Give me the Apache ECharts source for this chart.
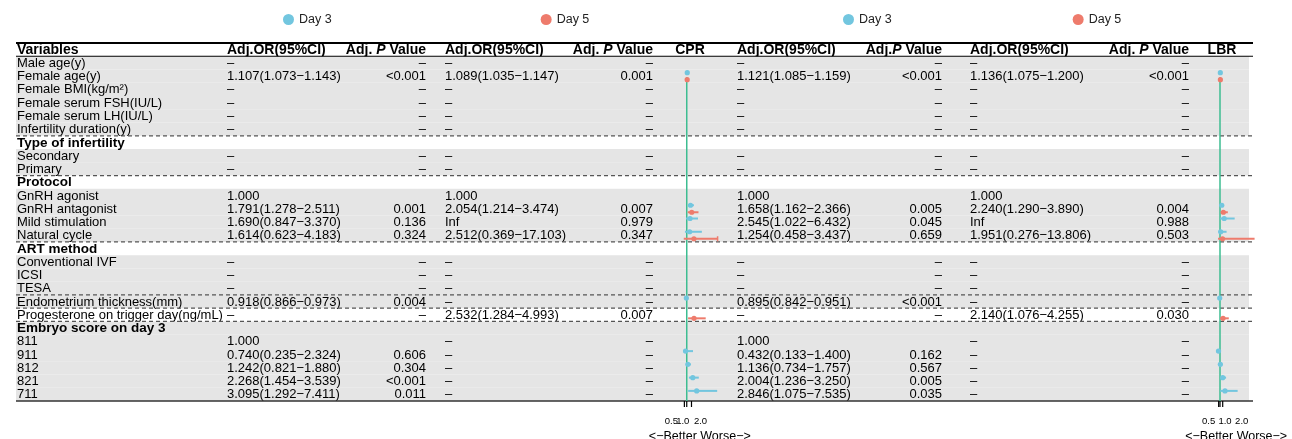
<!DOCTYPE html>
<html><head><meta charset="utf-8">
<script src="https://cdn.jsdelivr.net/npm/echarts@6/dist/echarts.min.js"></script>
<style>html,body{margin:0;padding:0;background:#fff}#c{width:1292px;height:439px}</style>
</head><body><div id="c"></div>
<script>
// ---------------- data ----------------
const variables = ['Male age(y)','Female age(y)','Female BMI(kg/m²)','Female serum FSH(IU/L)','Female serum LH(IU/L)','Infertility duration(y)',
  'Type of infertility','Secondary','Primary',
  'Protocol','GnRH agonist','GnRH antagonist','Mild stimulation','Natural cycle',
  'ART method','Conventional IVF','ICSI','TESA',
  'Endometrium thickness(mm)','Progesterone on trigger day(ng/mL)',
  'Embryo score on day 3','811','911','812','821','711'];
const groupRows = ['Type of infertility','Protocol','ART method','Embryo score on day 3'];

const cprDay3OR = ['–','1.107(1.073−1.143)','–','–','–','–','','–','–','','1.000','1.791(1.278−2.511)','1.690(0.847−3.370)','1.614(0.623−4.183)','','–','–','–','0.918(0.866−0.973)','–','','1.000','0.740(0.235−2.324)','1.242(0.821−1.880)','2.268(1.454−3.539)','3.095(1.292−7.411)'];
const cprDay3P  = ['–','<0.001','–','–','–','–','','–','–','','','0.001','0.136','0.324','','–','–','–','0.004','–','','','0.606','0.304','<0.001','0.011'];
const cprDay5OR = ['–','1.089(1.035−1.147)','–','–','–','–','','–','–','','1.000','2.054(1.214−3.474)','Inf','2.512(0.369−17.103)','','–','–','–','–','2.532(1.284−4.993)','','–','–','–','–','–'];
const cprDay5P  = ['–','0.001','–','–','–','–','','–','–','','','0.007','0.979','0.347','','–','–','–','–','0.007','','–','–','–','–','–'];
const lbrDay3OR = ['–','1.121(1.085−1.159)','–','–','–','–','','–','–','','1.000','1.658(1.162−2.366)','2.545(1.022−6.432)','1.254(0.458−3.437)','','–','–','–','0.895(0.842−0.951)','–','','1.000','0.432(0.133−1.400)','1.136(0.734−1.757)','2.004(1.236−3.250)','2.846(1.075−7.535)'];
const lbrDay3P  = ['–','<0.001','–','–','–','–','','–','–','','','0.005','0.045','0.659','','–','–','–','<0.001','–','','','0.162','0.567','0.005','0.035'];
const lbrDay5OR = ['–','1.136(1.075−1.200)','–','–','–','–','','–','–','','1.000','2.240(1.290−3.890)','Inf','1.951(0.276−13.806)','','–','–','–','–','2.140(1.076−4.255)','','–','–','–','–','–'];
const lbrDay5P  = ['–','<0.001','–','–','–','–','','–','–','','','0.004','0.988','0.503','','–','–','–','–','0.030','','–','–','–','–','–'];

const headers = ['Variables','Adj.OR(95%CI)','Adj. P Value','Adj.OR(95%CI)','Adj. P Value','CPR','Adj.OR(95%CI)','Adj.P Value','Adj.OR(95%CI)','Adj. P Value','LBR'];
const legendNames = ['Day 3','Day 5'];
const tickValues = [0.5, 1, 2];
const tickLabels = ['0.5','1.0','2.0'];
const axisTitle = '<−Better Worse−>';

// ---------------- layout / style ----------------
const FONT = '"Liberation Sans", Arial, Helvetica, sans-serif';
const BLUE = '#72C6DF', RED = '#EE7B6C', GREEN = '#3DBD91', SHADE = '#E5E5E5';
const whiteRows = ['Type of infertility','Protocol','ART method','Progesterone on trigger day(ng/mL)'];
const dashedAfter = ['Infertility duration(y)','Primary','Natural cycle','TESA','Endometrium thickness(mm)','Progesterone on trigger day(ng/mL)'];
const TOP = 43, ROWH = 13.26, NROW = variables.length + 1;
const TABLE_X0 = 16, TABLE_X1 = 1253, SHADE_X1 = 1249;
const columns = [
  {data: variables, x: 17, align: 'left'},
  {data: cprDay3OR, x: 227, align: 'left'},
  {data: cprDay3P, x: 426, align: 'right'},
  {data: cprDay5OR, x: 445, align: 'left'},
  {data: cprDay5P, x: 653, align: 'right'},
  {data: null, x: 690, align: 'center'},
  {data: lbrDay3OR, x: 737, align: 'left'},
  {data: lbrDay3P, x: 942, align: 'right'},
  {data: lbrDay5OR, x: 970, align: 'left'},
  {data: lbrDay5P, x: 1189, align: 'right'},
  {data: null, x: 1222, align: 'center'}
];
const CPR_MAX = 7.5, LBR_MAX = 14;
const cprShift = [-13, -4, 9], lbrShift = [-10, 5, 19];

const rowIds = ['header'].concat(variables);

function parseCI(s) {
  const m = s.match(/^([\d.]+)\(([\d.]+)−([\d.]+)\)$/);
  return m ? [+m[1], +m[2], +m[3]] : null;
}
function forestData(arr) {
  const out = [];
  arr.forEach((s, i) => { const v = parseCI(s); if (v) out.push([v[0], i + 1, v[1], v[2]]); });
  return out;
}
function headerRich(h) {
  const m = h.match(/^(.*?)P( Value)$/);
  if (!m) return '{b|' + h + '}';
  return '{b|' + m[1] + '}{i|P}{b|' + m[2] + '}';
}

function tableRender(params, api) {
  const r = params.dataIndex;
  const y = api.coord([0, r])[1];
  const h = api.size([0, 1])[1];
  const children = [];
  if (r === 0) {
    headers.forEach((hd, k) => {
      const c = columns[k];
      children.push({type: 'text', style: {
        text: headerRich(hd), x: c.x, y: y + 0.5, align: c.align, verticalAlign: 'middle',
        rich: {b: {fontFamily: FONT, fontSize: 14, fontWeight: 'bold', fill: '#000'},
               i: {fontFamily: FONT, fontSize: 14, fontWeight: 'bold', fontStyle: 'italic', fill: '#000'}}
      }});
    });
    return {type: 'group', children};
  }
  const name = variables[r - 1];
  if (whiteRows.indexOf(name) < 0) {
    children.push({type: 'rect', shape: {x: TABLE_X0, y: y - h / 2, width: SHADE_X1 - TABLE_X0, height: h},
      style: {fill: SHADE}, z2: 0});
  }
  const isGroup = groupRows.indexOf(name) >= 0;
  columns.forEach((c) => {
    if (!c.data) return;
    const t = c.data[r - 1];
    if (!t) return;
    children.push({type: 'text', z2: 2, style: {
      text: t, x: c.x, y: y + 0.5, align: c.align, verticalAlign: 'middle',
      fontFamily: FONT, fontSize: isGroup ? 13.5 : 13, fontWeight: isGroup ? 'bold' : 'normal', fill: '#000'
    }});
  });
  return {type: 'group', children};
}

function linesRender(params, api) {
  const h = api.size([0, 1])[1];
  const children = [];
  const yTop = api.coord([0, 0])[1] - h / 2;
  children.push({type: 'line', shape: {x1: TABLE_X0, y1: yTop, x2: TABLE_X1, y2: yTop}, style: {stroke: '#000', lineWidth: 2}});
  const yHead = api.coord([0, 0])[1] + h / 2;
  children.push({type: 'line', shape: {x1: TABLE_X0, y1: yHead, x2: TABLE_X1, y2: yHead}, style: {stroke: '#000', lineWidth: 1.2}});
  dashedAfter.forEach((nm) => {
    const r = variables.indexOf(nm) + 1;
    const yy = api.coord([0, r])[1] + h / 2;
    children.push({type: 'line', shape: {x1: TABLE_X0, y1: yy, x2: TABLE_X1, y2: yy},
      style: {stroke: '#555', lineWidth: 1.2, lineDash: [4, 3]}});
  });
  const yBot = api.coord([0, variables.length])[1] + h / 2;
  children.push({type: 'line', shape: {x1: TABLE_X0, y1: yBot, x2: TABLE_X1, y2: yBot}, style: {stroke: '#333', lineWidth: 1.5}});
  return {type: 'group', children};
}

function forestRender(offset, color, xmax) {
  return function (params, api) {
    const est = api.value(0), row = api.value(1), lo = api.value(2), hi = api.value(3);
    const p = api.coord([est, row]);
    const a = api.coord([lo, row]);
    const b = api.coord([Math.min(hi, xmax), row]);
    const y = p[1] + offset;
    const children = [{type: 'line', shape: {x1: a[0], y1: y, x2: b[0], y2: y}, style: {stroke: color, lineWidth: 2}}];
    if (hi > xmax) children.push({type: 'line', shape: {x1: b[0], y1: y - 2.5, x2: b[0], y2: y + 2.5}, style: {stroke: color, lineWidth: 1.5}});
    children.push({type: 'circle', shape: {cx: p[0], cy: y, r: 2.6}, style: {fill: color}});
    return {type: 'group', children};
  };
}

function refRender(params, api) {
  const h = api.size([0, 1])[1];
  const top = api.coord([1, 2]);
  const bot = api.coord([1, variables.length]);
  return {type: 'line', shape: {x1: top[0], y1: top[1] + 1, x2: top[0], y2: bot[1] + h / 2},
    style: {stroke: GREEN, lineWidth: 1.5}};
}

// ticks + tick labels placed through the forest x scale
function tickRender(shifts) {
  return function (params, api) {
    const k = params.dataIndex;
    const h = api.size([0, 1])[1];
    const p = api.coord([api.value(0), variables.length]);
    const yb = p[1] + h / 2;
    return {type: 'group', children: [
      {type: 'line', shape: {x1: p[0], y1: yb, x2: p[0], y2: yb + 6}, style: {stroke: '#000', lineWidth: 1.2}},
      {type: 'text', style: {text: tickLabels[k], x: p[0] + shifts[k], y: yb + 20, align: 'center', verticalAlign: 'middle',
        fontFamily: FONT, fontSize: 9.5, fill: '#000'}}
    ]};
  };
}

function forestXAxis(gridIndex, max) {
  return {
    type: 'value', gridIndex, min: 0, max,
    splitLine: {show: false},
    axisLine: {show: false},
    axisTick: {show: false},
    axisLabel: {show: false},
    name: axisTitle, nameLocation: 'middle', nameGap: 29,
    nameTextStyle: {fontFamily: FONT, fontSize: 12.5, color: '#000'}
  };
}

const yCat = (gridIndex) => ({type: 'category', gridIndex, data: rowIds, inverse: true,
  boundaryGap: true, show: false});

const grids = [
  {left: 0, width: 1292, top: TOP, height: ROWH * NROW, containLabel: false, outerBoundsMode: 'none'},
  {left: 682, width: 35.6, top: TOP, height: ROWH * NROW, containLabel: false, outerBoundsMode: 'none'},
  {left: 1217.3, width: 37.8, top: TOP, height: ROWH * NROW, containLabel: false, outerBoundsMode: 'none'}
];

const chart = echarts.init(document.getElementById('c'), null, {renderer: 'canvas'});
chart.setOption({
  animation: false,
  textStyle: {fontFamily: FONT},
  color: [BLUE, RED],
  legend: [
    {data: legendNames, left: 278, top: 8, itemWidth: 11, itemHeight: 11, itemGap: 209, icon: 'circle',
      textStyle: {fontFamily: FONT, fontSize: 12.5, color: '#222'}},
    {data: legendNames, left: 838, top: 8, itemWidth: 11, itemHeight: 11, itemGap: 181, icon: 'circle',
      textStyle: {fontFamily: FONT, fontSize: 12.5, color: '#222'}}
  ],
  grid: grids,
  xAxis: [
    {type: 'value', gridIndex: 0, min: 0, max: 1292, show: false},
    forestXAxis(1, CPR_MAX),
    forestXAxis(2, LBR_MAX)
  ],
  yAxis: [yCat(0), yCat(1), yCat(2)],
  series: [
    {type: 'custom', name: 'table', xAxisIndex: 0, yAxisIndex: 0, z: 1, silent: true,
      data: rowIds.map((_, i) => [0, i]), encode: {x: 0, y: 1}, renderItem: tableRender, clip: false},
    {type: 'custom', name: 'lines', xAxisIndex: 0, yAxisIndex: 0, z: 2, silent: true,
      data: [[0, 0]], encode: {x: 0, y: 1}, renderItem: linesRender, clip: false},
    {type: 'custom', name: 'ref1', xAxisIndex: 1, yAxisIndex: 1, z: 3, silent: true,
      data: [[1, 2]], encode: {x: 0, y: 1}, renderItem: refRender, clip: false},
    {type: 'custom', name: 'ref2', xAxisIndex: 2, yAxisIndex: 2, z: 3, silent: true,
      data: [[1, 2]], encode: {x: 0, y: 1}, renderItem: refRender, clip: false},
    {type: 'custom', name: 'ticks1', xAxisIndex: 1, yAxisIndex: 1, z: 3, silent: true,
      data: tickValues.map((v) => [v, 0]), encode: {x: 0, y: 1}, renderItem: tickRender(cprShift), clip: false},
    {type: 'custom', name: 'ticks2', xAxisIndex: 2, yAxisIndex: 2, z: 3, silent: true,
      data: tickValues.map((v) => [v, 0]), encode: {x: 0, y: 1}, renderItem: tickRender(lbrShift), clip: false},
    {type: 'custom', name: 'Day 3', xAxisIndex: 1, yAxisIndex: 1, z: 4, itemStyle: {color: BLUE},
      data: forestData(cprDay3OR), encode: {x: 0, y: 1}, renderItem: forestRender(-3.5, BLUE, CPR_MAX), clip: false},
    {type: 'custom', name: 'Day 5', xAxisIndex: 1, yAxisIndex: 1, z: 4, itemStyle: {color: RED},
      data: forestData(cprDay5OR), encode: {x: 0, y: 1}, renderItem: forestRender(3.5, RED, CPR_MAX), clip: false},
    {type: 'custom', name: 'Day 3', xAxisIndex: 2, yAxisIndex: 2, z: 4, itemStyle: {color: BLUE},
      data: forestData(lbrDay3OR), encode: {x: 0, y: 1}, renderItem: forestRender(-3.5, BLUE, LBR_MAX), clip: false},
    {type: 'custom', name: 'Day 5', xAxisIndex: 2, yAxisIndex: 2, z: 4, itemStyle: {color: RED},
      data: forestData(lbrDay5OR), encode: {x: 0, y: 1}, renderItem: forestRender(3.5, RED, LBR_MAX), clip: false}
  ]
});
</script></body></html>
